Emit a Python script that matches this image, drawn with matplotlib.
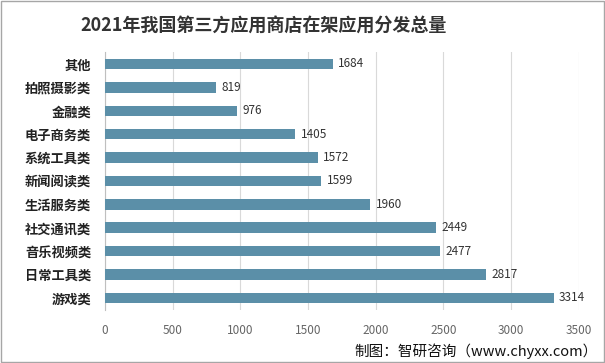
import matplotlib.pyplot as plt

plt.rcParams['font.family'] = ['Noto Sans CJK SC', 'DejaVu Sans']

categories = ['其他', '拍照摄影类', '金融类', '电子商务类', '系统工具类', '新闻阅读类',
              '生活服务类', '社交通讯类', '音乐视频类', '日常工具类', '游戏类']
values = [1684, 819, 976, 1405, 1572, 1599, 1960, 2449, 2477, 2817, 3314]
xticks = [0, 500, 1000, 1500, 2000, 2500, 3000, 3500]

fig = plt.figure(figsize=(6.05, 3.63), dpi=100)
ax = fig.add_axes([0.1736, 0.147, 0.783, 0.709])

ypos = list(range(len(categories)))
ax.barh(ypos, values, height=0.45, color='#5b8fa8', zorder=3)
for y, v in zip(ypos, values):
    ax.text(v + 40, y, str(v), va='center', ha='left', fontsize=8.5, color='#333333')

ax.set_ylim(len(categories) - 0.5, -0.5)
ax.set_xlim(0, 3500)
ax.set_yticks(ypos)
ax.set_yticklabels(categories, fontsize=9.5, fontweight='bold', color='#222222')
ax.set_xticks(xticks)
ax.set_xticklabels([str(t) for t in xticks], fontsize=8.5, color='#666666')
ax.tick_params(axis='y', length=0, pad=10)
ax.tick_params(axis='x', length=0, pad=10)
ax.grid(axis='x', color='#d9d9d9', linewidth=0.8, zorder=0)
for s in ['top', 'right', 'bottom']:
    ax.spines[s].set_visible(False)
ax.spines['left'].set_color('#bfbfbf')

fig.text(0.435, 0.93, '2021年我国第三方应用商店在架应用分发总量', ha='center', va='center',
         fontsize=13, fontweight='bold', color='#333333')
fig.text(0.988, 0.033, '制图：智研咨询（www.chyxx.com）', ha='right', va='center',
         fontsize=10.5, color='#111111')

fig.patches.append(plt.Rectangle((0.002, 0.003), 0.996, 0.994, transform=fig.transFigure,
                                 fill=False, edgecolor='#a6a6a6', linewidth=1))

fig.savefig('out.png', dpi=100)
